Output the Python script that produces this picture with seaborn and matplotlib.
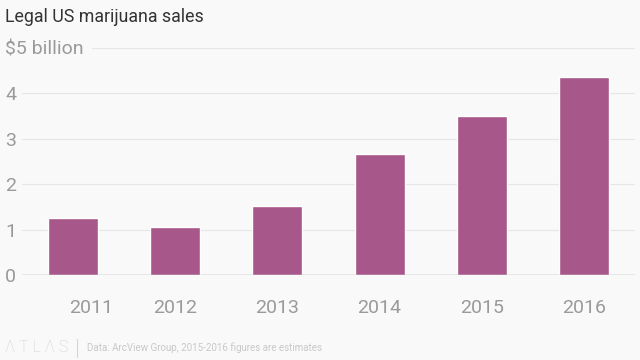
import matplotlib
matplotlib.use("Agg")
import matplotlib.pyplot as plt
import matplotlib.transforms as mtransforms
import seaborn as sns
import pandas as pd

years = ["2011", "2012", "2013", "2014", "2015", "2016"]
sales = [1.25, 1.05, 1.52, 2.67, 3.51, 4.36]
y_ticks = [0, 1, 2, 3, 4, 5]
y_labels = ["0", "1", "2", "3", "4", "$5 billion"]

sns.set_theme(style="white")
plt.rcParams["font.family"] = ["Roboto", "DejaVu Sans"]

BG = "#f9f9f9"
fig = plt.figure(figsize=(6.4, 3.6), dpi=100, facecolor=BG)
ax = fig.add_axes([22 / 640, 1 - 275 / 360, 613 / 640, (275 - 48) / 360])
ax.set_facecolor(BG)

df = pd.DataFrame({"year": years, "sales": sales})
sns.barplot(data=df, x="year", y="sales", color="#a8578a", saturation=1,
            width=0.49, ax=ax, zorder=3)

ax.set_xlim(-0.5, 5.5)
ax.set_ylim(0, 5)
ax.set_xlabel("")
ax.set_ylabel("")

# gridlines
for t in y_ticks[1:]:
    xmin = 0.114 if t == 5 else 0
    ax.axhline(t, xmin=xmin, xmax=1, color="#e6e6e6", lw=0.8, zorder=1)
ax.axhline(0, color="#999999", lw=1.0, zorder=4)

for s in ax.spines.values():
    s.set_visible(False)

ax.set_yticks(y_ticks)
ax.set_yticklabels(y_labels)
ax.tick_params(axis="y", length=0, pad=12.2, labelsize=14, labelcolor="#9a9a9a")
for lab in ax.get_yticklabels():
    lab.set_ha("left")

ax.tick_params(axis="x", length=13, width=0.8, color="#e3e3e3", pad=4,
               labelsize=14, labelcolor="#9a9a9a", direction="out")
# first label shifted right in the reference
xl = ax.get_xticklabels()
off = mtransforms.ScaledTranslation(18 / 100, 0, fig.dpi_scale_trans)
xl[0].set_transform(xl[0].get_transform() + off)

fig.text(5 / 640, 1 - 17 / 360, "Legal US marijuana sales", fontsize=12.8,
         color="#333333", ha="left", va="center")

# footer
fig.text(5 / 640, 1 - 348 / 360, "Λ T L Λ S", fontsize=11.5, color="#d0d0d0",
         ha="left", va="center", fontweight="light")
fig.add_artist(plt.Line2D([77 / 640, 77 / 640], [1 - 339 / 360, 1 - 357 / 360],
                          color="#d5d5d5", lw=0.8))
fig.text(87 / 640, 1 - 348 / 360,
         "Data: ArcView Group, 2015-2016 figures are estimates",
         fontsize=7.0, color="#c8c8c8", ha="left", va="center")

fig.savefig("out.png", dpi=100, facecolor=BG)
